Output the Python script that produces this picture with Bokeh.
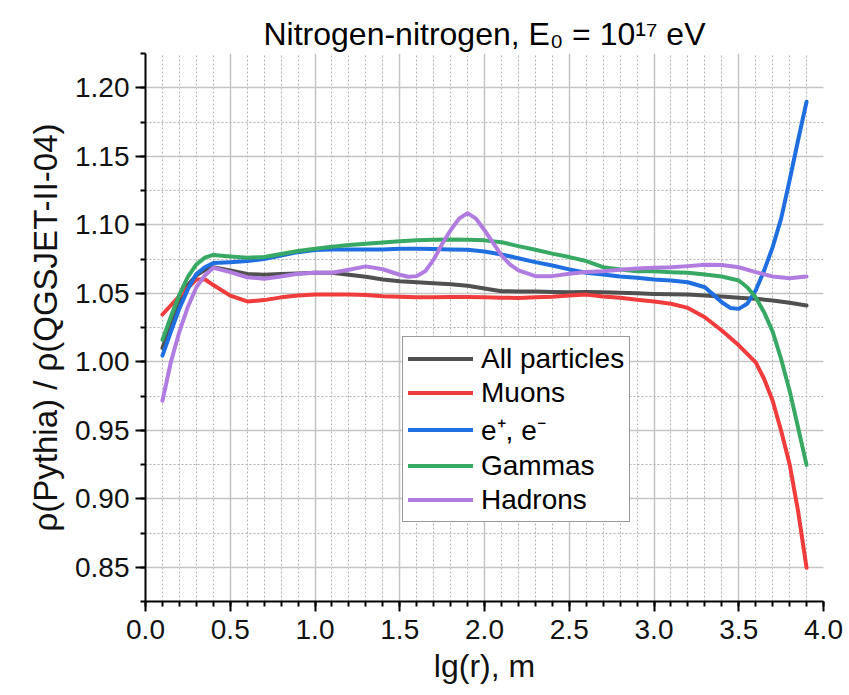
from bokeh.plotting import figure
from bokeh.models import SingleIntervalTicker, Range1d, Legend, LegendItem, CustomJSTickFormatter
from bokeh.embed import file_html
from bokeh.resources import INLINE

title_text = "Nitrogen-nitrogen, E\u2080 = 10\u00b9\u2077 eV"
x_label = "lg(r), m"
y_label = "\u03c1(Pythia) / \u03c1(QGSJET-II-04)"
series_names = ["All particles", "Muons", "e\u207a, e\u207b", "Gammas", "Hadrons"]

all_x = [0.1, 0.15, 0.2, 0.25, 0.3, 0.35, 0.4, 0.5, 0.6, 0.7, 0.8, 0.9, 1.0, 1.1, 1.2, 1.3,
         1.4, 1.5, 1.6, 1.7, 1.8, 1.9, 2.0, 2.1, 2.2, 2.3, 2.4, 2.5, 2.6, 2.7, 2.8,
         2.9, 3.0, 3.1, 3.2, 3.3, 3.4, 3.5, 3.6, 3.7, 3.8, 3.9]
all_y = [1.010, 1.028, 1.045, 1.056, 1.063, 1.067, 1.069, 1.0667, 1.064, 1.0635, 1.064, 1.0645,
         1.065, 1.065, 1.0635, 1.062, 1.060, 1.0588, 1.058, 1.0573, 1.0565, 1.0555,
         1.0535, 1.0515, 1.0513, 1.0513, 1.051, 1.0508, 1.051, 1.0508, 1.0503, 1.050,
         1.0495, 1.0492, 1.049, 1.0483, 1.0476, 1.0467, 1.046, 1.0447, 1.043, 1.041]

muon_x = [0.1, 0.2, 0.3, 0.35, 0.4, 0.5, 0.6, 0.7, 0.8, 0.9, 1.0, 1.1, 1.2, 1.3, 1.4,
          1.5, 1.6, 1.7, 1.8, 1.9, 2.0, 2.1, 2.2, 2.3, 2.4, 2.5, 2.6, 2.7, 2.8, 2.9,
          3.0, 3.1, 3.2, 3.3, 3.4, 3.5, 3.6, 3.65, 3.7, 3.75, 3.8, 3.85, 3.9]
muon_y = [1.0345, 1.048, 1.060, 1.0602, 1.056, 1.0483, 1.044, 1.045, 1.047, 1.0483,
          1.049, 1.049, 1.049, 1.0488, 1.0478, 1.0475, 1.047, 1.047, 1.0472, 1.0472,
          1.047, 1.0468, 1.0466, 1.047, 1.0475, 1.0483, 1.049, 1.0476, 1.0467, 1.0452,
          1.044, 1.0423, 1.0393, 1.0325, 1.0228, 1.012, 0.9996, 0.9874, 0.9715, 0.9496,
          0.9252, 0.891, 0.8496]

elec_x = [0.1, 0.15, 0.2, 0.25, 0.3, 0.35, 0.4, 0.5, 0.6, 0.7, 0.8, 0.9, 1.0, 1.1, 1.2,
          1.3, 1.4, 1.5, 1.6, 1.7, 1.8, 1.9, 2.0, 2.1, 2.2, 2.3, 2.4, 2.5, 2.6, 2.7,
          2.8, 2.9, 3.0, 3.1, 3.2, 3.3, 3.35, 3.4, 3.45, 3.5, 3.55, 3.6, 3.65, 3.7,
          3.75, 3.8, 3.85, 3.9]
elec_y = [1.0045, 1.022, 1.039, 1.053, 1.064, 1.069, 1.072, 1.0727, 1.0735, 1.075,
          1.0776, 1.080, 1.0815, 1.082, 1.082, 1.082, 1.082, 1.0825, 1.0825, 1.0823,
          1.082, 1.0818, 1.0805, 1.0783, 1.0756, 1.0727, 1.0703, 1.0674, 1.065, 1.0637,
          1.0622, 1.0613, 1.060, 1.0593, 1.058, 1.0544, 1.049, 1.0434, 1.0393, 1.0386,
          1.0423, 1.052, 1.0667, 1.0837, 1.1045, 1.1325, 1.1617, 1.1898]

gamma_x = [0.1, 0.15, 0.2, 0.25, 0.3, 0.35, 0.4, 0.5, 0.6, 0.7, 0.8, 0.9, 1.0, 1.1, 1.2,
           1.3, 1.4, 1.5, 1.6, 1.7, 1.8, 1.9, 2.0, 2.1, 2.2, 2.3, 2.4, 2.5, 2.6, 2.7,
           2.8, 2.9, 3.0, 3.1, 3.2, 3.3, 3.4, 3.5, 3.55, 3.6, 3.65, 3.7, 3.75, 3.8,
           3.85, 3.9]
gamma_y = [1.016, 1.033, 1.049, 1.062, 1.071, 1.076, 1.078, 1.0769, 1.076, 1.0764,
           1.0786, 1.0808, 1.0825, 1.084, 1.0852, 1.0862, 1.0871, 1.088, 1.0886, 1.089,
           1.0893, 1.089, 1.0886, 1.0873, 1.0844, 1.0818, 1.0789, 1.0764, 1.0735, 1.069,
           1.0674, 1.066, 1.066, 1.0654, 1.065, 1.0637, 1.0622, 1.0593, 1.0544, 1.047,
           1.036, 1.022, 1.002, 0.9789, 0.952, 0.9247]

hadr_x = [0.1, 0.15, 0.2, 0.25, 0.3, 0.35, 0.4, 0.5, 0.6, 0.7, 0.8, 0.9, 1.0, 1.1, 1.2,
          1.3, 1.4, 1.5, 1.55, 1.6, 1.65, 1.7, 1.75, 1.8, 1.85, 1.9, 1.95, 2.0, 2.05,
          2.1, 2.15, 2.2, 2.3, 2.4, 2.5, 2.6, 2.7, 2.8, 2.9, 3.0, 3.1, 3.2, 3.3, 3.4,
          3.5, 3.6, 3.7, 3.8, 3.9]
hadr_y = [0.9715, 1.000, 1.022, 1.040, 1.0544, 1.063, 1.0686, 1.0654, 1.0617, 1.0606,
          1.0622, 1.0642, 1.065, 1.065, 1.0672, 1.0696, 1.0675, 1.0635, 1.062, 1.0625,
          1.066, 1.0745, 1.086, 1.096, 1.1045, 1.1085, 1.1045, 1.096, 1.087, 1.0776,
          1.071, 1.0667, 1.0625, 1.0625, 1.0642, 1.0655, 1.066, 1.0672, 1.068, 1.0686,
          1.069, 1.0698, 1.0708, 1.0706, 1.069, 1.0654, 1.0622, 1.061, 1.0622]

colors = ["#505050", "#f03c3c", "#1f6fe0", "#38a865", "#b07ce0"]

FONT = "Liberation Sans"

p = figure(width=849, height=695, output_backend="svg", toolbar_location=None,
           x_range=Range1d(0.0, 4.0), y_range=Range1d(0.825, 1.225),
           min_border_left=145, min_border_right=26, min_border_top=53,
           min_border_bottom=94, title=title_text)
p.background_fill_color = "white"
p.border_fill_color = "white"
p.outline_line_color = None

p.title.text_font = FONT
p.title.text_font_size = "32px"
p.title.text_font_style = "normal"
p.title.align = "center"
p.title.text_color = "#000000"
p.title.standoff = 4

p.xaxis.ticker = SingleIntervalTicker(interval=0.5, num_minor_ticks=5)
p.yaxis.ticker = SingleIntervalTicker(interval=0.05, num_minor_ticks=2)
p.xaxis.formatter = CustomJSTickFormatter(code="return tick.toFixed(1);")
p.yaxis.formatter = CustomJSTickFormatter(code="return tick.toFixed(2);")

for ax in (p.xaxis[0], p.yaxis[0]):
    ax.axis_line_width = 2
    ax.axis_line_color = "black"
    ax.major_tick_line_width = 2
    ax.minor_tick_line_width = 2
    ax.major_tick_line_color = "black"
    ax.minor_tick_line_color = "black"
    ax.major_tick_out = 10
    ax.major_tick_in = 0
    ax.minor_tick_out = 5
    ax.minor_tick_in = 0
    ax.major_label_text_font = FONT
    ax.major_label_text_font_size = "28px"
    ax.major_label_text_color = "#111111"
    ax.axis_label_text_font = FONT
    ax.axis_label_text_font_size = "32px"
    ax.axis_label_text_font_style = "normal"
    ax.axis_label_text_color = "#111111"

p.xaxis.axis_label = x_label
p.yaxis.axis_label = y_label
p.yaxis.axis_label_text_font_size = "33px"
p.xaxis.major_label_standoff = 8
p.yaxis.major_label_standoff = 6
p.xaxis.axis_label_standoff = 6
p.yaxis.axis_label_standoff = 8

for g in (p.xgrid[0], p.ygrid[0]):
    g.grid_line_color = "#c4c4c4"
    g.grid_line_width = 1.5
    g.minor_grid_line_color = "#b0b0b0"
    g.minor_grid_line_width = 1
    g.minor_grid_line_dash = "2 2"

xs = [all_x, muon_x, elec_x, gamma_x, hadr_x]
ys = [all_y, muon_y, elec_y, gamma_y, hadr_y]
renderers = []
for x, y, c in zip(xs, ys, colors):
    r = p.line(x, y, line_color=c, line_width=4, line_join="round", line_cap="round")
    renderers.append(r)

legend = Legend(items=[LegendItem(label=n, renderers=[r]) for n, r in zip(series_names, renderers)],
                location=(257, 79))
legend.label_text_font = FONT
legend.label_text_font_size = "28px"
legend.label_text_color = "#000000"
legend.glyph_width = 65
legend.glyph_height = 33
legend.label_height = 33
legend.label_standoff = 8
legend.spacing = 1
legend.padding = 5
legend.margin = 0
legend.border_line_color = "#333333"
legend.border_line_width = 1.5
legend.background_fill_alpha = 1.0
p.add_layout(legend, "center")

open("out.html", "w").write(file_html(p, INLINE))
